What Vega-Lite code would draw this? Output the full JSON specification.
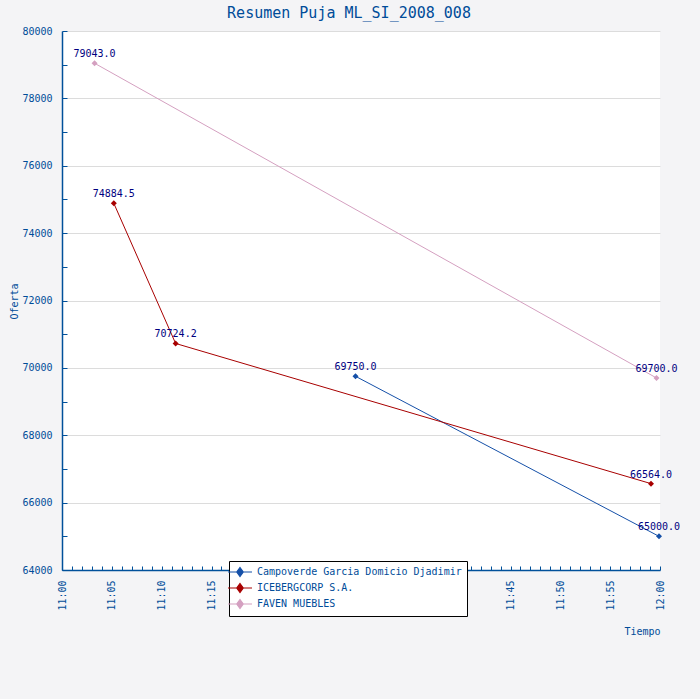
{
  "$schema": "https://vega.github.io/schema/vega-lite/v6.json",
  "autosize": {"type": "none"},
  "padding": {"left": 62, "top": 31, "right": 40, "bottom": 129},
  "width": 598,
  "height": 539,
  "background": "#f4f4f6",
  "title": {
    "text": "Resumen Puja ML_SI_2008_008",
    "anchor": "middle",
    "frame": "group",
    "dx": -12,
    "offset": 5,
    "font": "DejaVu Sans Mono",
    "fontSize": 15,
    "fontWeight": "normal",
    "color": "#004c99"
  },
  "data": {
    "values": [
      {"postor": "Campoverde Garcia Domicio Djadimir", "t": "2008/01/01 11:29:27", "oferta": 69750.0},
      {"postor": "Campoverde Garcia Domicio Djadimir", "t": "2008/01/01 11:59:54", "oferta": 65000.0},
      {"postor": "ICEBERGCORP S.A.", "t": "2008/01/01 11:05:12", "oferta": 74884.5},
      {"postor": "ICEBERGCORP S.A.", "t": "2008/01/01 11:11:24", "oferta": 70724.2},
      {"postor": "ICEBERGCORP S.A.", "t": "2008/01/01 11:59:06", "oferta": 66564.0},
      {"postor": "FAVEN MUEBLES", "t": "2008/01/01 11:03:16", "oferta": 79043.0},
      {"postor": "FAVEN MUEBLES", "t": "2008/01/01 11:59:39", "oferta": 69700.0}
    ]
  },
  "encoding": {
    "x": {
      "field": "t",
      "type": "temporal",
      "title": "Tiempo",
      "scale": {
        "domain": [
          {"year": 2008, "month": 1, "date": 1, "hours": 11, "minutes": 0},
          {"year": 2008, "month": 1, "date": 1, "hours": 12, "minutes": 0}
        ]
      },
      "axis": {
        "grid": false,
        "tickCount": 60,
        "labelOverlap": false,
        "labelExpr": "minutes(datum.value) % 5 === 0 ? timeFormat(datum.value, '%H:%M') : ''",
        "labelAngle": 270,
        "labelPadding": 14,
        "tickSize": -4,
        "titleX": 598,
        "titleY": 61,
        "titleAlign": "right",
        "titleBaseline": "middle"
      }
    },
    "y": {
      "field": "oferta",
      "type": "quantitative",
      "title": "Oferta",
      "scale": {"domain": [64000, 80000], "nice": false, "zero": false},
      "axis": {
        "values": [64000, 65000, 66000, 67000, 68000, 69000, 70000, 71000, 72000, 73000, 74000, 75000, 76000, 77000, 78000, 79000, 80000],
        "labelExpr": "datum.value % 2000 === 0 ? format(datum.value, 'd') : ''",
        "tickSize": -5,
        "labelPadding": 15,
        "grid": true,
        "gridColor": {"condition": {"test": "datum.value % 2000 === 0 && datum.value > 64000", "value": "#dcdcdc"}, "value": "transparent"},
        "titleX": -48,
        "titleY": 270,
        "titleAngle": 270,
        "titleAlign": "center",
        "titleBaseline": "middle"
      }
    },
    "color": {
      "field": "postor",
      "type": "nominal",
      "title": null,
      "scale": {
        "domain": ["Campoverde Garcia Domicio Djadimir", "ICEBERGCORP S.A.", "FAVEN MUEBLES"],
        "range": ["#1550a8", "#a80000", "#d4a0c0"]
      },
      "legend": {
        "orient": "none",
        "legendX": 167,
        "legendY": 530,
        "fillColor": "white",
        "strokeColor": "black",
        "padding": 5,
        "rowPadding": 2,
        "symbolType": "M-2.4,0H2.4M0,-0.9L0.65,0L0,0.9L-0.65,0Z",
        "symbolSize": 100,
        "symbolStrokeWidth": 1.2,
        "labelOffset": 11,
        "labelFont": "DejaVu Sans Mono",
        "labelFontSize": 10,
        "labelColor": "#004c99",
        "labelLimit": 400,
        "encode": {
          "symbols": {
            "update": {
              "fill": {"scale": "color", "field": "value"},
              "stroke": {"scale": "color", "field": "value"}
            }
          }
        }
      }
    }
  },
  "layer": [
    {"mark": {"type": "line", "strokeWidth": 1}},
    {"mark": {"type": "point", "shape": "diamond", "filled": true, "size": 36, "opacity": 1}},
    {
      "mark": {"type": "text", "dy": -9, "color": "#000080", "font": "DejaVu Sans Mono", "fontSize": 10},
      "encoding": {
        "text": {"field": "oferta", "type": "quantitative", "format": ".1f"},
        "color": {"value": "#000080"}
      }
    }
  ],
  "config": {
    "view": {"fill": "white", "stroke": null},
    "axis": {
      "domainColor": "#00509a",
      "tickColor": "#00509a",
      "labelColor": "#004c99",
      "titleColor": "#004c99",
      "labelFont": "DejaVu Sans Mono",
      "titleFont": "DejaVu Sans Mono",
      "labelFontSize": 10,
      "titleFontSize": 10,
      "titleFontWeight": "normal",
      "domainWidth": 1.5
    }
  }
}
